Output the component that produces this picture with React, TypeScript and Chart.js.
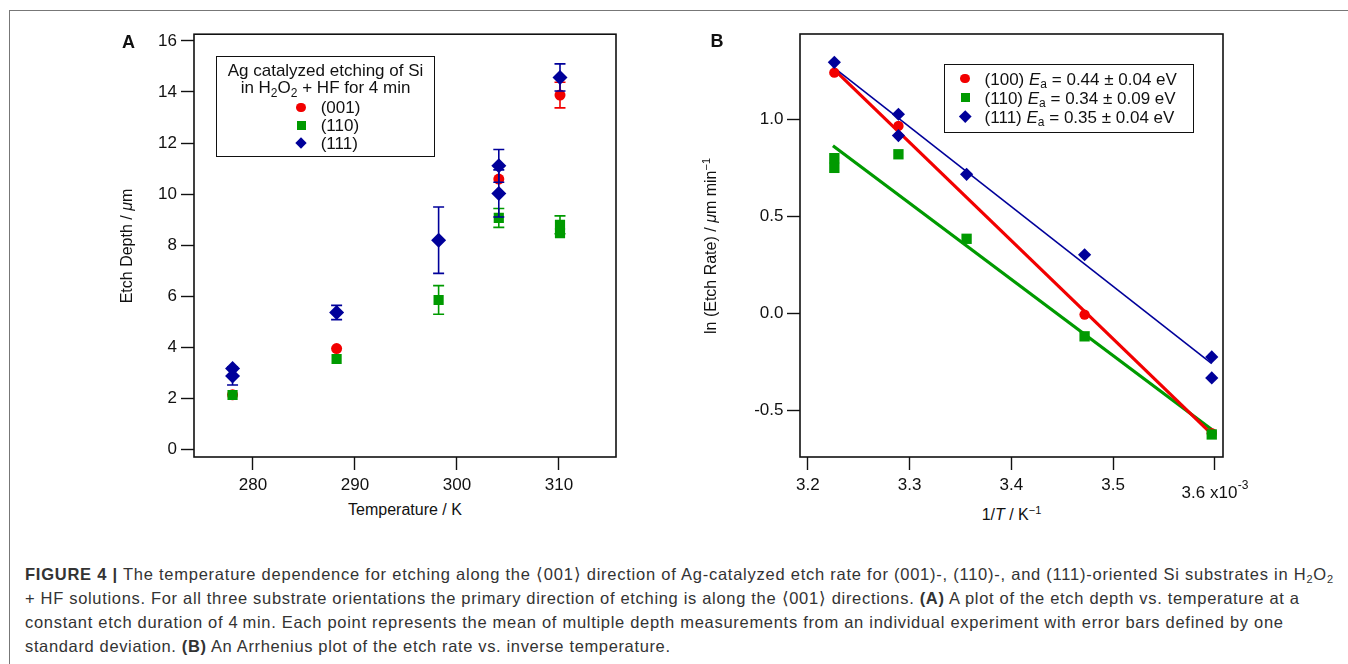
import React, { useEffect, useRef } from 'react';
import { Chart, registerables } from 'chart.js';

Chart.register(...registerables);

const RED = '#f20000';
const GREEN = '#009a00';
const BLUE = '#00009a';
const INK = '#111111';
const FONT = "'Liberation Sans', Arial, Helvetica, sans-serif";

// ---------- Panel A: etch depth vs temperature ----------
const temperatureTicks = [280, 290, 300, 310];
const depthTicks = [0, 2, 4, 6, 8, 10, 12, 14, 16];

const temp001 = [278, 288.2, 304.1, 310.1];
const depth001 = [2.15, 3.96, 10.59, 13.88];
const err001 = [0, 0, 0, 0.5];

const temp110 = [278, 288.2, 298.2, 304.1, 310.1, 310.1];
const depth110 = [2.14, 3.55, 5.86, 9.07, 8.8, 8.48];
const err110 = [0, 0, 0.56, 0.37, 0.35, 0];

const temp111 = [278, 278, 288.2, 298.2, 304.1, 304.1, 310.1];
const depth111 = [3.18, 2.88, 5.37, 8.2, 11.11, 10.03, 14.57];
const err111 = [0, 0.35, 0.28, 1.3, 0.64, 0.92, 0.53];

// ---------- Panel B: Arrhenius plot ----------
const invTTicks = [3.2, 3.3, 3.4, 3.5, 3.6];
const invTTickLabels = ['3.2', '3.3', '3.4', '3.5', '3.6'];
const invTExponentBase = 'x10';
const invTExponent = '-3';
const lnRateTicks = [-0.5, 0, 0.5, 1.0];
const lnRateTickLabels = ['-0.5', '0.0', '0.5', '1.0'];

const invT100 = [3.226, 3.289, 3.472, 3.597];
const lnRate100 = [1.24, 0.966, -0.005, -0.616];

const invT110 = [3.226, 3.226, 3.289, 3.356, 3.472, 3.597];
const lnRate110 = [0.8, 0.75, 0.82, 0.385, -0.117, -0.622];

const invT111 = [3.226, 3.289, 3.289, 3.356, 3.472, 3.597, 3.597];
const lnRate111 = [1.293, 1.026, 0.916, 0.717, 0.303, -0.223, -0.331];

const fitX = [3.2246, 3.597];
const fit100 = [1.262, -0.62];
const fit110 = [0.864, -0.596];
const fit111 = [1.27, -0.257];

const pts = (xs: number[], ys: number[]) => xs.map((x, i) => ({ x, y: ys[i] }));

const errorBarPlugin = {
  id: 'errorBars',
  beforeDatasetDraw(chart: any, args: any) {
    const ds = chart.data.datasets[args.index];
    const errs: number[] | undefined = ds.errors;
    if (!errs) return;
    const { ctx } = chart;
    const xs = chart.scales.x;
    const ys = chart.scales.y;
    ctx.save();
    ctx.strokeStyle = ds.pointBackgroundColor;
    ctx.lineWidth = 1.6;
    ds.data.forEach((p: any, i: number) => {
      const e = errs[i];
      if (!e) return;
      const px = xs.getPixelForValue(p.x);
      const top = ys.getPixelForValue(p.y + e);
      const bot = ys.getPixelForValue(p.y - e);
      ctx.beginPath();
      ctx.moveTo(px, top);
      ctx.lineTo(px, bot);
      ctx.moveTo(px - 5.5, top);
      ctx.lineTo(px + 5.5, top);
      ctx.moveTo(px - 5.5, bot);
      ctx.lineTo(px + 5.5, bot);
      ctx.stroke();
    });
    ctx.restore();
  },
};

const framePlugin = {
  id: 'frame',
  afterDraw(chart: any) {
    const { ctx, chartArea } = chart;
    ctx.save();
    ctx.strokeStyle = INK;
    ctx.lineWidth = 1.6;
    ctx.strokeRect(chartArea.left, chartArea.top, chartArea.right - chartArea.left, chartArea.bottom - chartArea.top);
    ctx.restore();
  },
};

const expLabelPlugin = {
  id: 'expLabel',
  afterDraw(chart: any) {
    const { ctx } = chart;
    const px = chart.scales.x.getPixelForValue(invTTicks[invTTicks.length - 1]);
    const y = chart.chartArea.bottom + 36;
    const main = invTTickLabels[invTTickLabels.length - 1] + ' ' + invTExponentBase;
    ctx.save();
    ctx.font = `17px ${FONT}`;
    const w1 = ctx.measureText(main).width;
    ctx.font = `12px ${FONT}`;
    const w2 = ctx.measureText(invTExponent).width;
    const start = px - (w1 + w2) / 2;
    ctx.fillStyle = INK;
    ctx.textBaseline = 'middle';
    ctx.textAlign = 'left';
    ctx.font = `17px ${FONT}`;
    ctx.fillText(main, start, y);
    ctx.font = `12px ${FONT}`;
    ctx.fillText(invTExponent, start + w1 + 0.5, y - 7);
    ctx.restore();
  },
};

const tickGrid = {
  display: true,
  drawOnChartArea: false,
  drawTicks: true,
  tickLength: 13,
  tickWidth: 1.4,
  tickColor: INK,
};

const tickFont = { family: FONT, size: 17 };

function PanelA() {
  const ref = useRef<HTMLCanvasElement>(null);
  useEffect(() => {
    const chart = new Chart(ref.current as HTMLCanvasElement, {
      type: 'scatter',
      data: {
        datasets: [
          {
            label: '(111)',
            data: pts(temp111, depth111),
            errors: err111,
            pointStyle: 'rectRot',
            pointRadius: 7.5,
            pointBackgroundColor: BLUE,
            pointBorderColor: BLUE,
            pointBorderWidth: 0,
            order: 0,
          } as any,
          {
            label: '(110)',
            data: pts(temp110, depth110),
            errors: err110,
            pointStyle: 'rect',
            pointRadius: 7.2,
            pointBackgroundColor: GREEN,
            pointBorderColor: GREEN,
            pointBorderWidth: 0,
            order: 1,
          } as any,
          {
            label: '(001)',
            data: pts(temp001, depth001),
            errors: err001,
            pointStyle: 'circle',
            pointRadius: 5.5,
            pointBackgroundColor: RED,
            pointBorderColor: RED,
            pointBorderWidth: 0,
            order: 2,
          } as any,
        ],
      },
      options: {
        animation: false,
        responsive: false,
        maintainAspectRatio: false,
        events: [],
        layout: { padding: { left: 0, top: 14, right: 34, bottom: 3 } },
        plugins: { legend: { display: false }, tooltip: { enabled: false } },
        scales: {
          x: {
            type: 'linear',
            min: 274.22,
            max: 315.59,
            afterBuildTicks: (s: any) => {
              s.ticks = temperatureTicks.map((v) => ({ value: v }));
            },
            afterFit: (s: any) => {
              s.height = 40;
            },
            ticks: { font: tickFont, color: INK, padding: 5, maxRotation: 0, autoSkip: false, callback: (v: any) => String(v) },
            grid: tickGrid,
            border: { display: false },
          },
          y: {
            type: 'linear',
            min: -0.2856,
            max: 16.262,
            afterBuildTicks: (s: any) => {
              s.ticks = depthTicks.map((v) => ({ value: v }));
            },
            afterFit: (s: any) => {
              s.width = 64;
            },
            ticks: { font: tickFont, color: INK, padding: 4, autoSkip: false, callback: (v: any) => String(v) },
            grid: tickGrid,
            border: { display: false },
          },
        },
      } as any,
      plugins: [errorBarPlugin, framePlugin],
    });
    return () => chart.destroy();
  }, []);
  return (
    <canvas
      ref={ref}
      width={520}
      height={480}
      style={{ position: 'absolute', left: 130, top: 20, width: 520, height: 480 }}
    />
  );
}

function PanelB() {
  const ref = useRef<HTMLCanvasElement>(null);
  useEffect(() => {
    const line = (xs: number[], ys: number[], color: string, width: number, order: number) => ({
      data: pts(xs, ys),
      showLine: true,
      borderColor: color,
      borderWidth: width,
      pointRadius: 0,
      fill: false,
      order,
    });
    const chart = new Chart(ref.current as HTMLCanvasElement, {
      type: 'scatter',
      data: {
        datasets: [
          {
            label: '(111)',
            data: pts(invT111, lnRate111),
            pointStyle: 'rectRot',
            pointRadius: 6.6,
            pointBackgroundColor: BLUE,
            pointBorderColor: BLUE,
            pointBorderWidth: 0,
            order: 0,
          } as any,
          {
            label: '(110)',
            data: pts(invT110, lnRate110),
            pointStyle: 'rect',
            pointRadius: 7.3,
            pointBackgroundColor: GREEN,
            pointBorderColor: GREEN,
            pointBorderWidth: 0,
            order: 1,
          } as any,
          {
            label: '(100)',
            data: pts(invT100, lnRate100),
            pointStyle: 'circle',
            pointRadius: 5.2,
            pointBackgroundColor: RED,
            pointBorderColor: RED,
            pointBorderWidth: 0,
            order: 2,
          } as any,
          line(fitX, fit111, BLUE, 1.6, 3) as any,
          line(fitX, fit100, RED, 3.2, 4) as any,
          line(fitX, fit110, GREEN, 3.2, 5) as any,
        ],
      },
      options: {
        animation: false,
        responsive: false,
        maintainAspectRatio: false,
        events: [],
        layout: { padding: { left: 0, top: 14, right: 37, bottom: 3 } },
        plugins: { legend: { display: false }, tooltip: { enabled: false } },
        scales: {
          x: {
            type: 'linear',
            min: 3.19224,
            max: 3.60806,
            afterBuildTicks: (s: any) => {
              s.ticks = invTTicks.map((v) => ({ value: v }));
            },
            afterFit: (s: any) => {
              s.height = 40;
            },
            ticks: {
              font: tickFont,
              color: INK,
              padding: 5,
              maxRotation: 0,
              autoSkip: false,
              callback: (_v: any, i: number) => (i === invTTicks.length - 1 ? '' : invTTickLabels[i]),
            },
            grid: tickGrid,
            border: { display: false },
          },
          y: {
            type: 'linear',
            min: -0.738,
            max: 1.439,
            afterBuildTicks: (s: any) => {
              s.ticks = lnRateTicks.map((v) => ({ value: v }));
            },
            afterFit: (s: any) => {
              s.width = 80;
            },
            ticks: { font: tickFont, color: INK, padding: 3.5, autoSkip: false, callback: (_v: any, i: number) => lnRateTickLabels[i] },
            grid: tickGrid,
            border: { display: false },
          },
        },
      } as any,
      plugins: [framePlugin, expLabelPlugin],
    });
    return () => chart.destroy();
  }, []);
  return (
    <canvas
      ref={ref}
      width={540}
      height={480}
      style={{ position: 'absolute', left: 720, top: 20, width: 540, height: 480 }}
    />
  );
}

type TxtProps = {
  x: number;
  y: number;
  align?: 'center' | 'left';
  rotate?: boolean;
  size?: number;
  bold?: boolean;
  color?: string;
  children: React.ReactNode;
};

function Txt({ x, y, align = 'center', rotate = false, size = 16, bold = false, color = INK, children }: TxtProps) {
  const tx = align === 'center' ? '-50%' : '0';
  return (
    <div
      style={{
        position: 'absolute',
        left: x,
        top: y,
        transform: `translate(${tx}, -50%)${rotate ? ' rotate(-90deg)' : ''}`,
        whiteSpace: 'nowrap',
        fontFamily: FONT,
        fontSize: size,
        fontWeight: bold ? 700 : 400,
        color,
        lineHeight: 1,
      }}
    >
      {children}
    </div>
  );
}

const Sub = ({ children, size = 12 }: { children: React.ReactNode; size?: number }) => (
  <span style={{ fontSize: size, position: 'relative', top: '0.3em' }}>{children}</span>
);
const Sup = ({ children, size = 11 }: { children: React.ReactNode; size?: number }) => (
  <span style={{ fontSize: size, position: 'relative', top: '-0.55em' }}>{children}</span>
);

function Marker({ x, y, kind, size, color }: { x: number; y: number; kind: 'circle' | 'square' | 'diamond'; size: number; color: string }) {
  const base: React.CSSProperties = {
    position: 'absolute',
    left: x - size / 2,
    top: y - size / 2,
    width: size,
    height: size,
    background: color,
  };
  if (kind === 'circle') base.borderRadius = '50%';
  if (kind === 'diamond') base.transform = 'rotate(45deg)';
  return <div style={base} />;
}

const captionLines: React.ReactNode[] = [
  <>
    <b>FIGURE 4 |</b> The temperature dependence for etching along the ⟨001⟩ direction of Ag-catalyzed etch rate for (001)-, (110)-, and
    (111)-oriented Si substrates in H<Sub size={11}>2</Sub>O<Sub size={11}>2</Sub>
  </>,
  <>
    + HF solutions. For all three substrate orientations the primary direction of etching is along the ⟨001⟩ directions. <b>(A)</b> A plot of the
    etch depth vs. temperature at a
  </>,
  <>
    constant etch duration of 4{'\u2009'}min. Each point represents the mean of multiple depth measurements from an individual experiment with
    error bars defined by one
  </>,
  <>
    standard deviation. <b>(B)</b> An Arrhenius plot of the etch rate vs. inverse temperature.
  </>,
];
const captionTargets = [1308, 1274, 1258, 645];
const captionY = [574, 598, 622, 646];

function Caption() {
  const refs = useRef<(HTMLDivElement | null)[]>([]);
  useEffect(() => {
    refs.current.forEach((el, i) => {
      if (!el) return;
      el.style.letterSpacing = '0px';
      const w = el.getBoundingClientRect().width;
      const n = (el.textContent || '').length;
      const ls = (captionTargets[i] - w) / Math.max(1, n - 1);
      el.style.letterSpacing = `${ls}px`;
    });
  }, []);
  return (
    <>
      {captionLines.map((c, i) => (
        <div
          key={i}
          ref={(el) => {
            refs.current[i] = el;
          }}
          style={{
            position: 'absolute',
            left: 25,
            top: captionY[i],
            transform: 'translateY(-50%)',
            whiteSpace: 'nowrap',
            fontFamily: FONT,
            fontSize: 16.5,
            color: '#333',
            lineHeight: 1,
          }}
        >
          {c}
        </div>
      ))}
    </>
  );
}

export default function App() {
  return (
    <div
      style={{
        position: 'absolute',
        left: 0,
        top: 0,
        width: 1348,
        height: 664,
        background: '#fff',
        overflow: 'hidden',
        fontFamily: FONT,
      }}
    >
      {/* figure border (top + left) */}
      <div
        style={{
          position: 'absolute',
          left: 9,
          top: 10,
          width: 1400,
          height: 700,
          borderTop: '1.5px solid #777',
          borderLeft: '1.5px solid #777',
        }}
      />

      <PanelA />
      <PanelB />

      {/* panel letters */}
      <Txt x={128.5} y={41.5} size={18} bold>
        A
      </Txt>
      <Txt x={717} y={41} size={18} bold>
        B
      </Txt>

      {/* axis titles panel A */}
      <Txt x={405} y={509.5} size={16}>
        Temperature / K
      </Txt>
      <Txt x={126.5} y={245.5} size={16} rotate>
        Etch Depth / <i>μ</i>m
      </Txt>

      {/* axis titles panel B */}
      <Txt x={1011.5} y={515} size={16}>
        1/<i>T</i> / K<Sup>−1</Sup>
      </Txt>
      <Txt x={711} y={245.5} size={16} rotate>
        ln (Etch Rate) / <i>μ</i>m min<Sup>−1</Sup>
      </Txt>

      {/* legend panel A */}
      <div
        style={{
          position: 'absolute',
          left: 216,
          top: 55.5,
          width: 219,
          height: 101,
          border: '1.6px solid #111',
          boxSizing: 'border-box',
        }}
      />
      <Txt x={325.5} y={69.5} size={17}>
        Ag catalyzed etching of Si
      </Txt>
      <Txt x={325.5} y={87} size={17}>
        in H<Sub>2</Sub>O<Sub>2</Sub> + HF for 4 min
      </Txt>
      <Marker x={301} y={107.3} kind="circle" size={9.5} color={RED} />
      <Marker x={301} y={125} kind="square" size={9} color={GREEN} />
      <Marker x={301} y={142.7} kind="diamond" size={8} color={BLUE} />
      <Txt x={320.7} y={107.3} size={17} align="left">
        (001)
      </Txt>
      <Txt x={320.7} y={125} size={17} align="left">
        (110)
      </Txt>
      <Txt x={320.7} y={142.7} size={17} align="left">
        (111)
      </Txt>

      {/* legend panel B */}
      <div
        style={{
          position: 'absolute',
          left: 944,
          top: 64,
          width: 249.5,
          height: 69,
          border: '1.6px solid #111',
          boxSizing: 'border-box',
        }}
      />
      <Marker x={965} y={78.5} kind="circle" size={9.5} color={RED} />
      <Marker x={965} y={97.5} kind="square" size={9} color={GREEN} />
      <Marker x={965} y={116.5} kind="diamond" size={8.5} color={BLUE} />
      <Txt x={984.6} y={78.5} size={17} align="left">
        (100) <i>E</i>
        <Sub>a</Sub> = 0.44 ± 0.04 eV
      </Txt>
      <Txt x={984.6} y={97.5} size={17} align="left">
        (110) <i>E</i>
        <Sub>a</Sub> = 0.34 ± 0.09 eV
      </Txt>
      <Txt x={984.6} y={116.5} size={17} align="left">
        (111) <i>E</i>
        <Sub>a</Sub> = 0.35 ± 0.04 eV
      </Txt>

      <Caption />
    </div>
  );
}
